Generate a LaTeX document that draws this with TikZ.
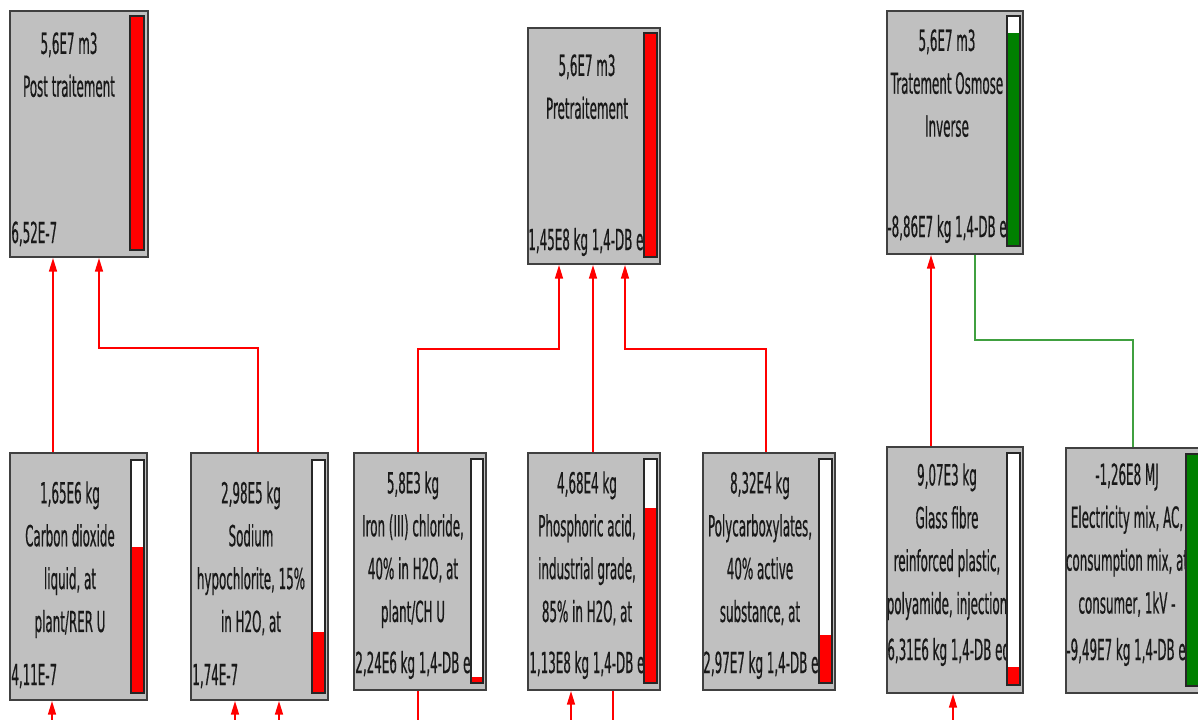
\documentclass[tikz,border=0pt]{standalone}
\usepackage{fontspec}
\newfontfamily\boxfont[FakeStretch=0.41,FakeBold=0.5]{DejaVu Sans}
\usetikzlibrary{arrows.meta,calc}

\definecolor{boxgray}{RGB}{192,192,192}
\definecolor{barred}{RGB}{255,0,0}
\definecolor{bargreen}{RGB}{0,128,0}

\tikzset{
  box/.style={draw=black!75, line width=1.2pt, fill=boxgray, anchor=north west, inner sep=0pt},
  lbl/.style={font=\boxfont\fontsize{16.5}{24.4}\selectfont, align=center, anchor=north, inner sep=0pt, text=black!90},
  val/.style={font=\boxfont\fontsize{16.5}{24.4}\selectfont, anchor=base west, inner sep=0pt, text=black!90},
  bar/.style={draw=black!85, line width=0.7pt},
  flow/.style={draw=barred, line width=0.8pt, -{Triangle[length=0.27cm,width=0.16cm]}},
  noflow/.style={draw=barred, line width=0.8pt},
  gflow/.style={draw=bargreen!75, line width=0.8pt},
}

\begin{document}
\begin{tikzpicture}[x=0.02cm, y=-0.02cm]
\useasboundingbox (0,0) rectangle (1198,720);
\clip (0,0) rectangle (1198,720);

% top row
\node[box, minimum width=2.76cm, minimum height=4.92cm] (post) at (9,10) {};
\node[box, minimum width=2.64cm, minimum height=4.72cm] (pre) at (527,27) {};
\node[box, minimum width=2.72cm, minimum height=4.86cm] (osm) at (886,10) {};

% bottom row
\node[box, minimum width=2.74cm, minimum height=4.94cm] (carbon) at (9,452) {};
\node[box, minimum width=2.74cm, minimum height=4.94cm] (sodium) at (190,452) {};
\node[box, minimum width=2.64cm, minimum height=4.74cm] (iron) at (353,452) {};
\node[box, minimum width=2.64cm, minimum height=4.74cm] (phos) at (527,452) {};
\node[box, minimum width=2.64cm, minimum height=4.74cm] (poly) at (702,452) {};
\node[box, minimum width=2.72cm, minimum height=4.92cm] (glass) at (886,446) {};
\node[box, minimum width=2.78cm, minimum height=4.90cm] (elec) at (1065,447) {};


\node[lbl] (posttxt) at (69,32) {5,6E7 m3\\Post traitement};
\node[val] (postval) at (11,243) {6,52E-7};

\node[lbl] (pretxt) at (587,54) {5,6E7 m3\\Pretraitement};
\begin{scope}
\clip (pre.north west) rectangle (pre.south east);
\node[val] (preval) at (528,250) {1,45E8 kg 1,4-DB eq};
\end{scope}

\node[lbl] (osmtxt) at (947,29) {5,6E7 m3\\Tratement Osmose\\Inverse};
\begin{scope}
\clip (osm.north west) rectangle (osm.south east);
\node[val] (osmval) at (887,237) {-8,86E7 kg 1,4-DB eq};
\end{scope}

\node[lbl] (carbontxt) at (70,481) {1,65E6 kg\\Carbon dioxide\\liquid, at\\plant/RER U};
\node[val] (carbonval) at (11,685) {4,11E-7};

\node[lbl] (sodiumtxt) at (251,481) {2,98E5 kg\\Sodium\\hypochlorite, 15\%\\in H2O, at};
\node[val] (sodiumval) at (192,685) {1,74E-7};

\begin{scope}
\clip (iron.north west) rectangle (iron.south east);
\node[lbl] (irontxt) at (413,471) {5,8E3 kg\\Iron (III) chloride,\\40\% in H2O, at\\plant/CH U};
\node[val] (ironval) at (355,673) {2,24E6 kg 1,4-DB eq};
\end{scope}

\begin{scope}
\clip (phos.north west) rectangle (phos.south east);
\node[lbl] (phostxt) at (587,471) {4,68E4 kg\\Phosphoric acid,\\industrial grade,\\85\% in H2O, at};
\node[val] (phosval) at (529,673) {1,13E8 kg 1,4-DB eq};
\end{scope}

\begin{scope}
\clip (poly.north west) rectangle (poly.south east);
\node[lbl] (polytxt) at (760,471) {8,32E4 kg\\Polycarboxylates,\\40\% active\\substance, at};
\node[val] (polyval) at (703,673) {2,97E7 kg 1,4-DB eq};
\end{scope}

\begin{scope}
\clip (glass.north west) rectangle (glass.south east);
\node[lbl] (glasstxt) at (947,463) {9,07E3 kg\\Glass fibre\\reinforced plastic,\\polyamide, injection};
\node[val] (glassval) at (887,660) {6,31E6 kg 1,4-DB eq};
\end{scope}

\node[lbl] (electxt) at (1127,463) {-1,26E8 MJ\\Electricity mix, AC,\\consumption mix, at\\consumer, 1kV -};
\node[val] (elecval) at (1066,660) {-9,49E7 kg 1,4-DB eq};


% level bars
\fill[white] (130,16) rectangle (144,250);
\fill[barred] (130,16) rectangle (144,250);
\draw[bar] (130,16) rectangle (144,250);

\fill[white] (644,33) rectangle (657,257);
\fill[barred] (644,33) rectangle (657,257);
\draw[bar] (644,33) rectangle (657,257);

\fill[white] (1007,16) rectangle (1020,246);
\fill[bargreen] (1007,33) rectangle (1020,246);
\draw[bar] (1007,16) rectangle (1020,246);

\fill[white] (131,460) rectangle (144,693);
\fill[barred] (131,547) rectangle (144,693);
\draw[bar] (131,460) rectangle (144,693);

\fill[white] (312,460) rectangle (325,693);
\fill[barred] (312,632) rectangle (325,693);
\draw[bar] (312,460) rectangle (325,693);

\fill[white] (471,459) rectangle (483,683);
\fill[barred] (471,677) rectangle (483,683);
\draw[bar] (471,459) rectangle (483,683);

\fill[white] (644,459) rectangle (657,683);
\fill[barred] (644,508) rectangle (657,683);
\draw[bar] (644,459) rectangle (657,683);

\fill[white] (819,459) rectangle (832,683);
\fill[barred] (819,635) rectangle (832,683);
\draw[bar] (819,459) rectangle (832,683);

\fill[white] (1007,453) rectangle (1020,685);
\fill[barred] (1007,667) rectangle (1020,685);
\draw[bar] (1007,453) rectangle (1020,685);

\fill[white] (1186,454) rectangle (1201,686);
\fill[bargreen] (1186,454) rectangle (1201,686);
\draw[bar] (1186,454) rectangle (1201,686);


% connectors
\draw[flow] ($(carbon.north west)+(44,0)$) -- ($(post.south west)+(44,0)$);
\draw[flow] ($(sodium.north west)+(68,0)$) |- ($(post.south west)+(90,90)$) -- ($(post.south west)+(90,0)$);

\draw[flow] ($(iron.north west)+(65,0)$) |- ($(pre.south west)+(32,84)$) -- ($(pre.south west)+(32,0)$);
\draw[flow] ($(phos.north west)+(66,0)$) -- ($(pre.south west)+(66,0)$);
\draw[flow] ($(poly.north west)+(64,0)$) |- ($(pre.south west)+(98,84)$) -- ($(pre.south west)+(98,0)$);

\draw[flow] ($(glass.north west)+(45,0)$) -- ($(osm.south west)+(45,0)$);
\draw[gflow] ($(elec.north west)+(68,0)$) |- ($(osm.south west)+(89,85)$) -- ($(osm.south west)+(89,0)$);

% inputs from below
\coordinate (carbonin) at (52,740);
\coordinate (sodiumina) at (235,740);
\coordinate (sodiuminb) at (279,740);
\coordinate (ironout) at (418,740);
\coordinate (phosin) at (571,740);
\coordinate (phosout) at (613,740);
\coordinate (glassin) at (953,740);

\draw[flow] (carbonin) -- (carbonin |- carbon.south);
\draw[flow] (sodiumina) -- (sodiumina |- sodium.south);
\draw[flow] (sodiuminb) -- (sodiuminb |- sodium.south);
\draw[noflow] (ironout |- iron.south) -- (ironout);
\draw[flow] (phosin) -- (phosin |- phos.south);
\draw[noflow] (phosout |- phos.south) -- (phosout);
\draw[flow] (glassin) -- (glassin |- glass.south);

\end{tikzpicture}
\end{document}
